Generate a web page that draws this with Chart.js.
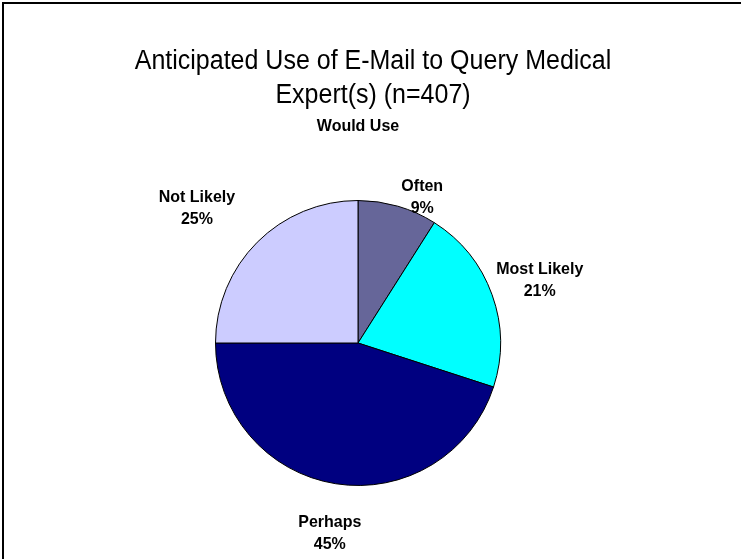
<!DOCTYPE html>
<html>
<head>
<meta charset="utf-8">
<script src="https://cdn.jsdelivr.net/npm/chart.js@4.4.0/dist/chart.umd.min.js"></script>
<style>
    html, body { margin: 0; padding: 0; background: #FFFFFF; }
    #cadre { position: relative; width: 741px; height: 559px; }
</style>
</head>
<body>
<div id="cadre"><canvas id="graphiqueSecteurs"></canvas></div>
<script>
// Données du sondage (n=407)
const lignesTitre = ['Anticipated Use of E-Mail to Query Medical', 'Expert(s) (n=407)'];
const sousTitre = 'Would Use';
const categories = ['Often', 'Most Likely', 'Perhaps', 'Not Likely'];
const pourcentages = [9, 21, 45, 25];

const couleursSecteurs = ['#666699', '#00FFFF', '#000080', '#CCCCFF'];
const POLICE = '"Liberation Sans", Arial, sans-serif';

// Décalage manuel des étiquettes (placement "au mieux" comme dans Excel)
const decalagesEtiquettes = [[17, 16], [1, -6], [0, 24], [-29, -15]];

// Texte légèrement étiré en hauteur (police un peu condensée)
function texteEtire(ctx, texte, x, y, etirement) {
    ctx.save();
    ctx.translate(x, y);
    ctx.scale(1, etirement);
    ctx.fillText(texte, 0, 0);
    ctx.restore();
}

// 1. TEXTES : titre, sous-titre, étiquettes et cadre
const pluginTextes = {
    id: 'textes',
    afterDatasetsDraw(chart) {
        const ctx = chart.ctx;
        ctx.save();

        // Cadre (bords haut et gauche visibles)
        ctx.fillStyle = '#000000';
        ctx.fillRect(2, 2, 2, chart.height - 2);
        ctx.fillRect(2, 2, chart.width - 2, 2);

        ctx.textAlign = 'center';
        ctx.textBaseline = 'middle';

        // Titre sur deux lignes
        ctx.font = '25px ' + POLICE;
        lignesTitre.forEach((ligne, i) => texteEtire(ctx, ligne, 373, 62 + i * 34, 1.08));

        ctx.font = 'bold 16px ' + POLICE;
        texteEtire(ctx, sousTitre, 358, 126, 1.05);

        // Étiquettes : nom + pourcentage, hors du disque, sur l'angle médian
        const meta = chart.getDatasetMeta(0);
        meta.data.forEach((arc, i) => {
            const p = arc.getProps(['x', 'y', 'startAngle', 'endAngle', 'outerRadius'], true);
            const milieu = (p.startAngle + p.endAngle) / 2;
            const dx = Math.cos(milieu);
            const dy = Math.sin(milieu);
            const lignes = [categories[i], pourcentages[i] + '%'];
            const demiLargeur = Math.max(...lignes.map(l => ctx.measureText(l).width)) / 2;
            const demiHauteur = 20;
            const r = p.outerRadius + 6;
            const cx = p.x + dx * r + dx * demiLargeur + decalagesEtiquettes[i][0];
            const cy = p.y + dy * r + dy * demiHauteur + decalagesEtiquettes[i][1];
            texteEtire(ctx, lignes[0], cx, cy - 11, 1.05);
            texteEtire(ctx, lignes[1], cx, cy + 11, 1.05);
        });

        ctx.restore();
    }
};

// 2. CRÉATION DU GRAPHIQUE
const ctx = document.getElementById('graphiqueSecteurs').getContext('2d');
new Chart(ctx, {
    type: 'pie',
    data: {
        labels: categories,
        datasets: [{
            data: pourcentages,
            backgroundColor: couleursSecteurs,
            borderColor: '#000000',
            borderWidth: 1,
            hoverOffset: 0
        }]
    },
    options: {
        responsive: true,
        maintainAspectRatio: false,
        animation: false,
        layout: {
            // zone du disque : centre (358, 343), rayon 143
            padding: { left: 215, right: 240, top: 200, bottom: 73 }
        },
        plugins: {
            legend: { display: false },
            title: { display: false },
            tooltip: { enabled: false }
        }
    },
    plugins: [pluginTextes]
});
</script>
</body>
</html>
